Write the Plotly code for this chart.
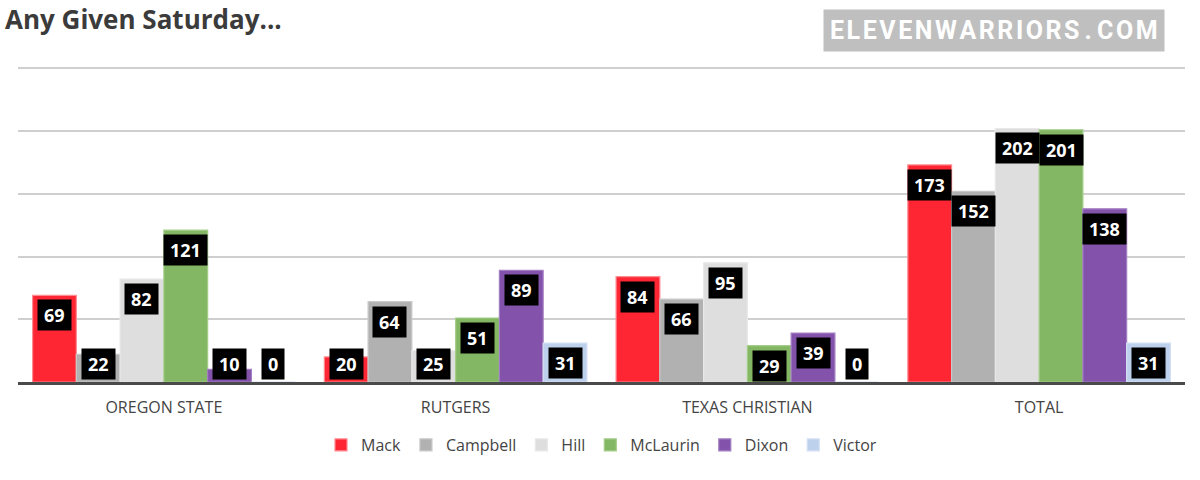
import plotly.graph_objects as go

categories = ["OREGON STATE", "RUTGERS", "TEXAS CHRISTIAN", "TOTAL"]
players = ["Mack", "Campbell", "Hill", "McLaurin", "Dixon", "Victor"]
mack = [69, 20, 84, 173]
campbell = [22, 64, 66, 152]
hill = [82, 25, 95, 202]
mclaurin = [121, 51, 29, 201]
dixon = [10, 89, 39, 138]
victor = [0, 31, 0, 31]
series = [mack, campbell, hill, mclaurin, dixon, victor]

colors = ["#fe2632", "#b1b1b1", "#dedede", "#84b763", "#8352aa", "#bdd0ec"]
edges = ["#ff8a90", "#c8c8c8", "#e8e8e8", "#a3cd88", "#a27ec2", "#d3e0f3"]

bar_w = 0.15
start = -0.45
xs = list(range(len(categories)))

fig = go.Figure()
annotations = []
for i, (name, vals) in enumerate(zip(players, series)):
    off = start + i * bar_w
    fig.add_trace(go.Bar(
        x=xs, y=vals, name=name, width=bar_w, offset=off,
        marker=dict(color=colors[i], line=dict(color=edges[i], width=1.2)),
        hoverinfo="name+y",
    ))
    for g, v in zip(xs, vals):
        big = v >= 28
        annotations.append(dict(
            x=g + off + bar_w / 2, y=v if big else 0,
            xref="x", yref="y", text=f"\u2009<b>{v}</b>\u2009", showarrow=False,
            yanchor="top" if big else "bottom", xanchor="center",
            yshift=-4 if big else 2,
            bgcolor="#000000", borderpad=3,
            font=dict(family="Open Sans", size=18, color="#ffffff"),
        ))

wm = "\u200a".join("ELEVENWARRIORS") + "\u2009.\u2009" + "\u200a".join("COM")
annotations.append(dict(
    x=0.836, y=1.0, xref="paper", yref="paper", xanchor="center", yanchor="middle",
    yshift=37, text=f"<b>{wm}</b>", showarrow=False,
    font=dict(family="Roboto", size=25, color="#ffffff"),
    bgcolor="#bfbfbf", borderpad=6,
))

fig.update_layout(
    width=1200, height=480,
    margin=dict(l=18, r=15, t=67, b=98, autoexpand=False),
    paper_bgcolor="#ffffff", plot_bgcolor="#ffffff",
    barmode="overlay",
    title=dict(text="<b>Any Given Saturday...</b>", x=5 / 1200, xanchor="left",
               xref="container", yref="container", y=1 - 20 / 480, yanchor="middle",
               font=dict(family="Open Sans", size=26, color="#3b3b3b")),
    showlegend=True,
    legend=dict(orientation="h", x=0.5, xanchor="center", y=-0.146, yanchor="top",
                font=dict(family="Open Sans", size=16, color="#444444"),
                itemwidth=30, traceorder="normal"),
    xaxis=dict(range=[-0.5, 3.5], tickmode="array", tickvals=xs, ticktext=categories,
               showgrid=False, zeroline=False, showline=True, linecolor="#4a4a4a",
               linewidth=3, ticks="", ticklen=0, ticklabelstandoff=9, automargin=False,
               tickfont=dict(family="Open Sans", size=16, color="#444444")),
    yaxis=dict(range=[0, 251], tickvals=[50, 100, 150, 200, 250], showgrid=True,
               gridcolor="#cfcfcf", gridwidth=1.5, automargin=False,
               showticklabels=False, zeroline=False, fixedrange=True),
    annotations=annotations,
)
fig.write_html("out.html", config={"displayModeBar": False},
               post_script="document.body.style.margin='0';")
